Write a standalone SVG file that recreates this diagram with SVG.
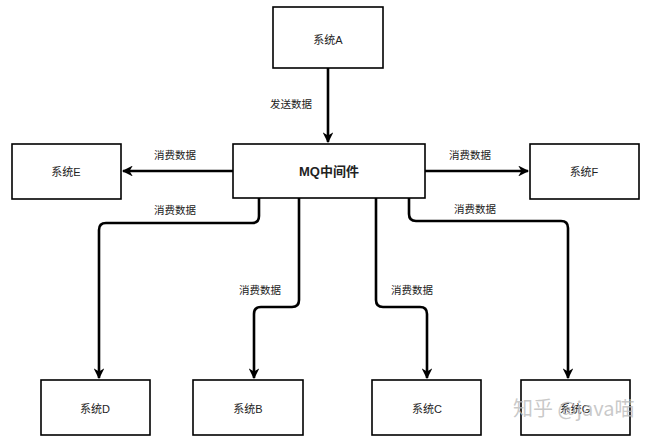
<svg xmlns="http://www.w3.org/2000/svg" width="652" height="447" viewBox="0 0 652 447">
<defs>
<marker id="arr" viewBox="0 0 10 10" refX="9" refY="5" markerWidth="4.2" markerHeight="4.2" markerUnits="strokeWidth" orient="auto">
<path d="M0 0 L10 5 L0 10 L3 5 Z" fill="#000"/>
</marker>
<style>
.box{fill:#fff;stroke:#000;stroke-width:1.6}
.t{font-family:"Liberation Sans","Noto Sans CJK SC",sans-serif;font-size:11px;fill:#222;text-anchor:middle;dominant-baseline:central}
.lbl{font-family:"Liberation Sans","Noto Sans CJK SC",sans-serif;font-size:10.5px;fill:#222;text-anchor:middle;dominant-baseline:central}
.c{fill:none;stroke:#000;stroke-width:2.6;marker-end:url(#arr);stroke-linejoin:round}
</style>
</defs>
<rect width="652" height="447" fill="#fff"/>
<g id="connectors">
<path class="c" d="M328 68 V142"/>
<path class="c" d="M233 171 H123"/>
<path class="c" d="M425 171 H528"/>
<path class="c" d="M259 198 V216 Q259 223 252 223 H106 Q99 223 99 230 V378"/>
<path class="c" d="M299 198 V300 Q299 307 292 307 H261 Q254 307 254 314 V378"/>
<path class="c" d="M376 198 V300 Q376 307 383 307 H420 Q427 307 427 314 V378"/>
<path class="c" d="M409 198 V214 Q409 221 416 221 H561 Q568 221 568 228 V378"/>
<text class="lbl" x="291" y="104">发送数据</text>
<text class="lbl" x="175" y="155">消费数据</text>
<text class="lbl" x="470" y="155">消费数据</text>
<text class="lbl" x="175" y="210">消费数据</text>
<text class="lbl" x="475" y="209">消费数据</text>
<text class="lbl" x="260" y="290">消费数据</text>
<text class="lbl" x="412" y="290">消费数据</text>
</g>
<g id="nodeA"><rect class="box" x="273" y="7" width="110" height="61"/><text class="t" x="328" y="40">系统A</text></g>
<g id="nodeMQ"><rect class="box" x="233" y="144" width="192" height="54"/><text class="t" x="329" y="171" style="font-weight:bold;font-size:13px">MQ中间件</text></g>
<g id="nodeE"><rect class="box" x="12" y="144" width="109" height="55"/><text class="t" x="66" y="172">系统E</text></g>
<g id="nodeF"><rect class="box" x="530" y="144" width="109" height="55"/><text class="t" x="584" y="172">系统F</text></g>
<g id="nodeD"><rect class="box" x="41" y="380" width="109" height="55"/><text class="t" x="95" y="409">系统D</text></g>
<g id="nodeB"><rect class="box" x="193" y="380" width="110" height="55"/><text class="t" x="248" y="409">系统B</text></g>
<g id="nodeC"><rect class="box" x="372" y="380" width="109" height="55"/><text class="t" x="427" y="409">系统C</text></g>
<g id="nodeG"><rect class="box" x="521" y="380" width="109" height="55"/><text class="t" x="575" y="409">系统G</text></g>
<text x="513" y="416" style="font-family:'Noto Sans CJK SC',sans-serif;font-size:20px;fill:#bbb;fill-opacity:0.8">知乎 @java喵</text>
</svg>
